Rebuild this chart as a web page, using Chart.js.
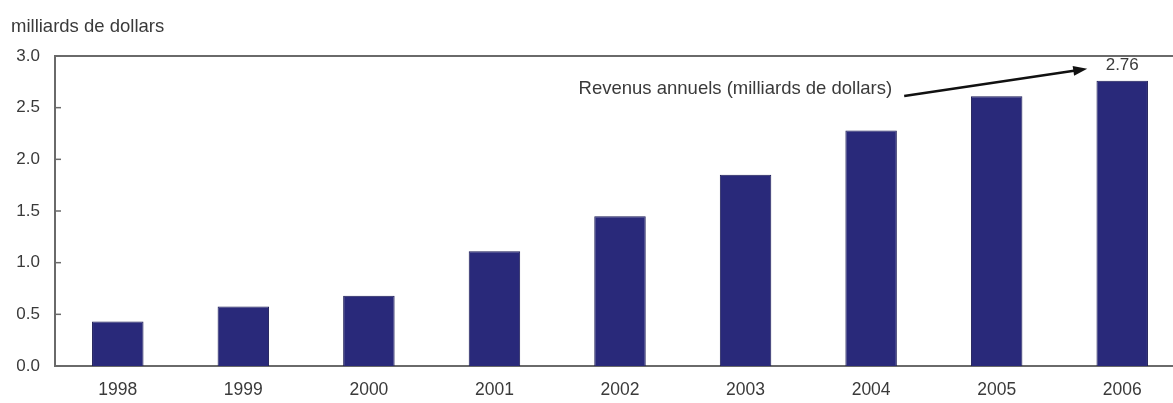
<!DOCTYPE html>
<html>
<head>
<meta charset="utf-8">
<script src="https://cdn.jsdelivr.net/npm/chart.js"></script>
<style>
  html, body { margin: 0; padding: 0; background: #fff; overflow: hidden; }
  #wrap { position: relative; width: 1190px; height: 403px; }
</style>
</head>
<body>
<div id="wrap"><canvas id="c"></canvas></div>
<script>
const categories = ['1998', '1999', '2000', '2001', '2002', '2003', '2004', '2005', '2006'];
const revenues = [0.43, 0.575, 0.68, 1.11, 1.45, 1.85, 2.28, 2.61, 2.76];
const yTicks = [0, 0.5, 1.0, 1.5, 2.0, 2.5, 3.0];
const unitLabel = 'milliards de dollars';
const annotationText = 'Revenus annuels (milliards de dollars)';
const lastValueLabel = '2.76';

const FONT = '"Liberation Sans", Arial, sans-serif';
const TEXT = '#3a3a3a';
const AXIS = '#6a6a6a';

const decor = {
  id: 'decor',
  afterDraw(chart) {
    const ctx = chart.ctx;
    const x = chart.scales.x, y = chart.scales.y;
    const area = chart.chartArea;
    ctx.save();
    // top line at max
    ctx.strokeStyle = AXIS;
    ctx.lineWidth = 2;
    ctx.beginPath();
    ctx.moveTo(area.left, y.getPixelForValue(3));
    ctx.lineTo(area.right, y.getPixelForValue(3));
    ctx.stroke();
    // inward ticks
    ctx.lineWidth = 1.5;
    yTicks.forEach(v => {
      const py = y.getPixelForValue(v);
      ctx.beginPath();
      ctx.moveTo(area.left, py);
      ctx.lineTo(area.left + 6, py);
      ctx.stroke();
    });
    // unit label
    ctx.fillStyle = TEXT;
    ctx.font = '18.5px ' + FONT;
    ctx.textAlign = 'left';
    ctx.textBaseline = 'middle';
    ctx.fillText(unitLabel, 11, 27);
    // value label above last bar
    const last = revenues.length - 1;
    const lx = x.getPixelForValue(last);
    const ly = y.getPixelForValue(revenues[last]);
    ctx.font = '17px ' + FONT;
    ctx.textAlign = 'center';
    ctx.fillText(lastValueLabel, lx, ly - 15);
    // annotation text
    ctx.font = '18.5px ' + FONT;
    const tx = x.getPixelForValue(3.67);
    const ty = y.getPixelForValue(2.68);
    ctx.textAlign = 'left';
    ctx.fillText(annotationText, tx, ty);
    // arrow
    const ax0 = tx + ctx.measureText(annotationText).width + 12;
    const ay0 = ty + 7;
    const ax1 = lx - 35;
    const ay1 = ly - 12;
    ctx.strokeStyle = '#111';
    ctx.fillStyle = '#111';
    ctx.lineWidth = 2.5;
    const ang = Math.atan2(ay1 - ay0, ax1 - ax0);
    ctx.beginPath();
    ctx.moveTo(ax0, ay0);
    ctx.lineTo(ax1 - 10 * Math.cos(ang), ay1 - 10 * Math.sin(ang));
    ctx.stroke();
    ctx.beginPath();
    ctx.moveTo(ax1, ay1);
    ctx.lineTo(ax1 - 14 * Math.cos(ang) + 5 * Math.sin(ang), ay1 - 14 * Math.sin(ang) - 5 * Math.cos(ang));
    ctx.lineTo(ax1 - 14 * Math.cos(ang) - 5 * Math.sin(ang), ay1 - 14 * Math.sin(ang) + 5 * Math.cos(ang));
    ctx.closePath();
    ctx.fill();
    ctx.restore();
  }
};

new Chart(document.getElementById('c'), {
  type: 'bar',
  data: {
    labels: categories,
    datasets: [{
      data: revenues,
      backgroundColor: '#29297a',
      borderColor: '#1a1a55',
      borderWidth: 1,
      barPercentage: 0.41,
      categoryPercentage: 1.0
    }]
  },
  options: {
    responsive: true,
    maintainAspectRatio: false,
    animation: false,
    layout: { padding: { top: 56, right: 5, left: 0, bottom: 0 } },
    plugins: { legend: { display: false }, tooltip: { enabled: false }, title: { display: false } },
    scales: {
      x: {
        afterFit(scale) { scale.height = 37; },
        grid: { display: false, drawTicks: false },
        border: { display: true, color: AXIS, width: 2 },
        ticks: { color: TEXT, font: { family: FONT, size: 17.5 }, padding: 14, maxRotation: 0 }
      },
      y: {
        min: 0, max: 3,
        afterFit(scale) { scale.width = 55; },
        afterBuildTicks(scale) { scale.ticks = yTicks.map(v => ({ value: v })); },
        grid: { display: false, drawTicks: false },
        border: { display: true, color: AXIS, width: 2 },
        ticks: {
          color: TEXT, font: { family: FONT, size: 17 }, padding: 15,
          callback: v => Number(v).toFixed(1)
        }
      }
    }
  },
  plugins: [decor]
});
</script>
</body>
</html>
